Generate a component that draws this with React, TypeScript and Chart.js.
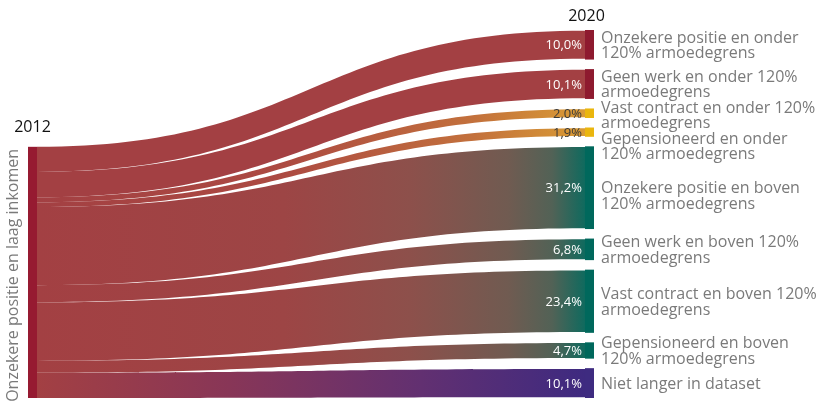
import { useEffect, useRef } from "react";
import { Chart, registerables } from "chart.js";

Chart.register(...registerables);

// ---------- data ----------
const sourceYear = "2012";
const targetYear = "2020";
const sourceLabel = "Onzekere positie en laag inkomen";
const targetLabels: string[][] = [
  ["Onzekere positie en onder", "120% armoedegrens"],
  ["Geen werk en onder 120%", "armoedegrens"],
  ["Vast contract en onder 120%", "armoedegrens"],
  ["Gepensioneerd en onder", "120% armoedegrens"],
  ["", "Onzekere positie en boven", "120% armoedegrens"],
  ["Geen werk en boven 120%", "armoedegrens"],
  ["Vast contract en boven 120%", "armoedegrens"],
  ["Gepensioneerd en boven", "120% armoedegrens"],
  ["Niet langer in dataset"],
];
const flowValues = [10.0, 10.1, 2.0, 1.9, 31.2, 6.8, 23.4, 4.7, 10.1];
const valueLabels = ["10,0%", "10,1%", "2,0%", "1,9%", "31,2%", "6,8%", "23,4%", "4,7%", "10,1%"];
const targetGroups = ["red", "red", "yellow", "yellow", "teal", "teal", "teal", "teal", "purple"];

// ---------- style ----------
const NODE_PAD = 1.8; // extra node height in value units
const NODE_GAP = 3.8; // gap between target nodes in value units
const NODE_W = 9;
const SOURCE_COLOR = "#961A31";
const LINK_START = "#A34043";
const groupStyle: Record<string, { node: string; stops: [number, string][]; label: string }> = {
  red: { node: "#8E1A2F", stops: [[0, LINK_START], [1, "#A34043"]], label: "#ffffff" },
  yellow: {
    node: "#EAB60E",
    stops: [[0, LINK_START], [0.45, "#AC4A42"], [0.8, "#C3713C"], [1, "#DA9C35"]],
    label: "#3a3a3a",
  },
  teal: {
    node: "#00685C",
    stops: [[0, LINK_START], [0.45, "#9D4545"], [0.68, "#8D504B"], [0.86, "#705B51"], [0.94, "#526256"], [1, "#0F6A5E"]],
    label: "#ffffff",
  },
  purple: {
    node: "#3E2B80",
    stops: [[0, LINK_START], [0.35, "#883657"], [0.7, "#623071"], [1, "#3E2A80"]],
    label: "#ffffff",
  },
};
const FONT = "'Open Sans', 'Noto Sans', sans-serif";

const total = flowValues.reduce((a, b) => a + b, 0);
const yExtent = total + flowValues.length * NODE_PAD + (flowValues.length - 1) * NODE_GAP;

const sankeyPlugin = {
  id: "sankeyDraw",
  afterDatasetsDraw(chart: any) {
    const ctx: CanvasRenderingContext2D = chart.ctx;
    const xs = chart.scales.x;
    const ys = chart.scales.y;
    const xL = xs.getPixelForValue(0);
    const xR = xs.getPixelForValue(1);
    const linkX0 = xL + NODE_W;
    const linkX1 = xR - NODE_W;
    const xm = (linkX0 + linkX1) / 2;

    // target node layout (value units)
    const nodes: { top: number; bottom: number }[] = [];
    let cum = 0;
    flowValues.forEach((v) => {
      const top = cum;
      const bottom = top + v + NODE_PAD;
      nodes.push({ top, bottom });
      cum = bottom + NODE_GAP;
    });
    const srcTop = yExtent - total;

    // links
    let sCum = srcTop;
    flowValues.forEach((v, i) => {
      const l0 = ys.getPixelForValue(sCum);
      const l1 = ys.getPixelForValue(sCum + v);
      sCum += v;
      const r0 = ys.getPixelForValue(nodes[i].top + 0.3);
      const r1 = ys.getPixelForValue(nodes[i].bottom - 0.3);
      const g = ctx.createLinearGradient(linkX0, 0, linkX1, 0);
      groupStyle[targetGroups[i]].stops.forEach(([o, c]) => g.addColorStop(o, c));
      ctx.save();
      ctx.beginPath();
      ctx.moveTo(linkX0, l0);
      ctx.bezierCurveTo(xm, l0, xm, r0, linkX1, r0);
      ctx.lineTo(linkX1, r1);
      ctx.bezierCurveTo(xm, r1, xm, l1, linkX0, l1);
      ctx.closePath();
      ctx.fillStyle = g;
      ctx.fill();
      ctx.restore();
    });

    // source node
    const sTopPx = ys.getPixelForValue(srcTop);
    const sBotPx = ys.getPixelForValue(yExtent);
    ctx.fillStyle = SOURCE_COLOR;
    ctx.fillRect(xL, sTopPx, NODE_W, sBotPx - sTopPx);

    // target nodes
    nodes.forEach((n, i) => {
      const t = ys.getPixelForValue(n.top);
      const b = ys.getPixelForValue(n.bottom);
      ctx.fillStyle = groupStyle[targetGroups[i]].node;
      ctx.fillRect(linkX1, t, NODE_W, b - t);
    });

    // value labels
    ctx.font = `13px ${FONT}`;
    ctx.textAlign = "right";
    ctx.textBaseline = "middle";
    nodes.forEach((n, i) => {
      const c = ys.getPixelForValue((n.top + n.bottom) / 2);
      ctx.fillStyle = groupStyle[targetGroups[i]].label;
      ctx.fillText(valueLabels[i], linkX1 - 3, c + 1);
    });

    // target labels with simple collision push
    const lineH = 15.5;
    ctx.font = `16px ${FONT}`;
    ctx.textAlign = "left";
    ctx.fillStyle = "#7a7a7a";
    let prevBottom = -Infinity;
    nodes.forEach((n, i) => {
      const c = ys.getPixelForValue((n.top + n.bottom) / 2);
      const lines = targetLabels[i];
      const h = lines.length * lineH;
      let top = c - h / 2 + 1;
      if (lines[0] !== "" && top < prevBottom) top = prevBottom;
      lines.forEach((ln, k) => {
        if (ln) ctx.fillText(ln, xR + 7, top + lineH * (k + 0.5));
      });
      prevBottom = top + h;
    });

    // source label (vertical)
    ctx.save();
    ctx.translate(xL - 15, (sTopPx + sBotPx) / 2 + 3);
    ctx.rotate(-Math.PI / 2);
    ctx.textAlign = "center";
    ctx.textBaseline = "middle";
    ctx.fillStyle = "#7a7a7a";
    ctx.font = `16px ${FONT}`;
    ctx.fillText(sourceLabel, 0, 0);
    ctx.restore();

    // year labels
    ctx.fillStyle = "#111111";
    ctx.font = `16px ${FONT}`;
    ctx.textAlign = "center";
    ctx.textBaseline = "alphabetic";
    ctx.fillText(sourceYear, xL + NODE_W / 2, sTopPx - 15);
    ctx.fillText(targetYear, linkX1 + NODE_W / 2 - 3, ys.getPixelForValue(0) - 9);
  },
};

export default function App() {
  const ref = useRef<HTMLCanvasElement | null>(null);
  useEffect(() => {
    if (!ref.current) return;
    const chart = new Chart(ref.current, {
      type: "scatter",
      data: { datasets: [{ data: [], pointRadius: 0 }] },
      options: {
        responsive: false,
        animation: false,
        devicePixelRatio: 1,
        layout: { padding: { left: 28, right: 229, top: 30, bottom: 3 } },
        scales: {
          x: { type: "linear", min: 0, max: 1, display: false },
          y: { type: "linear", min: 0, max: yExtent, reverse: true, display: false },
        },
        plugins: { legend: { display: false }, tooltip: { enabled: false } },
      },
      plugins: [sankeyPlugin],
    });
    return () => chart.destroy();
  }, []);
  return (
    <div style={{ position: "fixed", left: 0, top: 0, width: 823, height: 401, background: "#fff" }}>
      <canvas ref={ref} width={823} height={401} style={{ display: "block" }} />
    </div>
  );
}
